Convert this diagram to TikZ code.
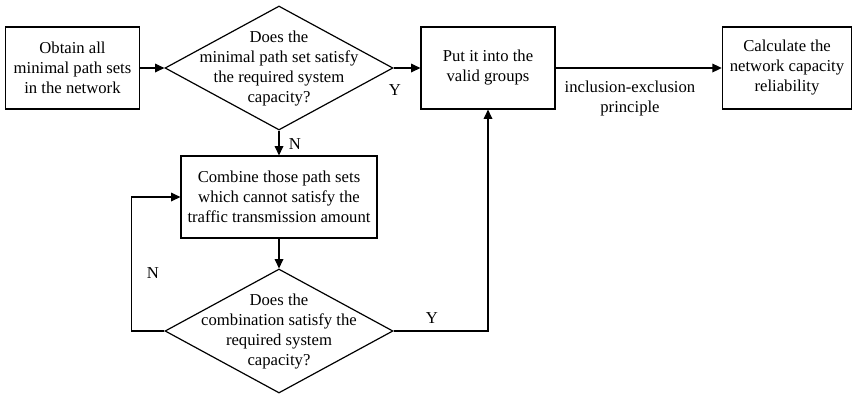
\documentclass[tikz,border=0pt]{standalone}
\usepackage{fontspec}
\setmainfont{Liberation Serif}
\usetikzlibrary{shapes.geometric,arrows.meta,positioning}

\begin{document}
\begin{tikzpicture}[x=0.75pt,y=-0.75pt,line width=0.9pt,
  txt/.style={align=center,font=\fontsize{12.5}{15}\selectfont},
  box/.style={txt,draw,rectangle,minimum height=61.5pt,inner sep=0pt},
  dia/.style={draw,diamond,inner sep=0pt,minimum width=171pt,minimum height=93pt},
  arr/.style={-{Triangle[length=7pt,width=6.5pt]}}]
\useasboundingbox (0,0) rectangle (853,394);

% top row
\node[box,minimum width=101pt] (obtain) at (72.5,68) {Obtain all\\minimal path sets\\in the network};
\node[dia] (dec1) at (279,68) {};
\node[txt] (dec1t) at (279,69) {Does the\\minimal path set satisfy\\the required system\\capacity?};
\node[box,minimum width=100.5pt] (put) at (488,68) {Put it into the\\valid groups};
\node[box,minimum width=97pt] (calc) at (787,68) {Calculate the\\network capacity\\reliability};

% lower part
\node[box,minimum width=147pt] (combine) at (279,197) {Combine those path sets\\which cannot satisfy the\\traffic transmission amount};
\node[dia] (dec2) at (279,331) {};
\node[txt] (dec2t) at (279,332) {Does the\\combination satisfy the\\required system\\capacity?};

% connectors
\draw[arr] (obtain) -- (dec1);
\draw[arr] (dec1.east) -- (put.west);
\draw[arr] (dec1.south) -- (combine.north);
\draw[arr] (combine.south) -- (dec2.north);
\draw[arr] (dec2.west) -- ++(-33,0) |- (combine.west);
\draw[arr] (dec2.east) -| (put.south);
\draw[arr] (put.east) -- (calc.west);

% labels
\node[txt] (y1) at (395,90) {Y};
\node[txt] (n1) at (295,144) {N};
\node[txt] (n2) at (153,273) {N};
\node[txt] (y2) at (432,318) {Y};
\node[txt] (iep) at (630,98) {inclusion-exclusion\\principle};
\end{tikzpicture}
\end{document}
